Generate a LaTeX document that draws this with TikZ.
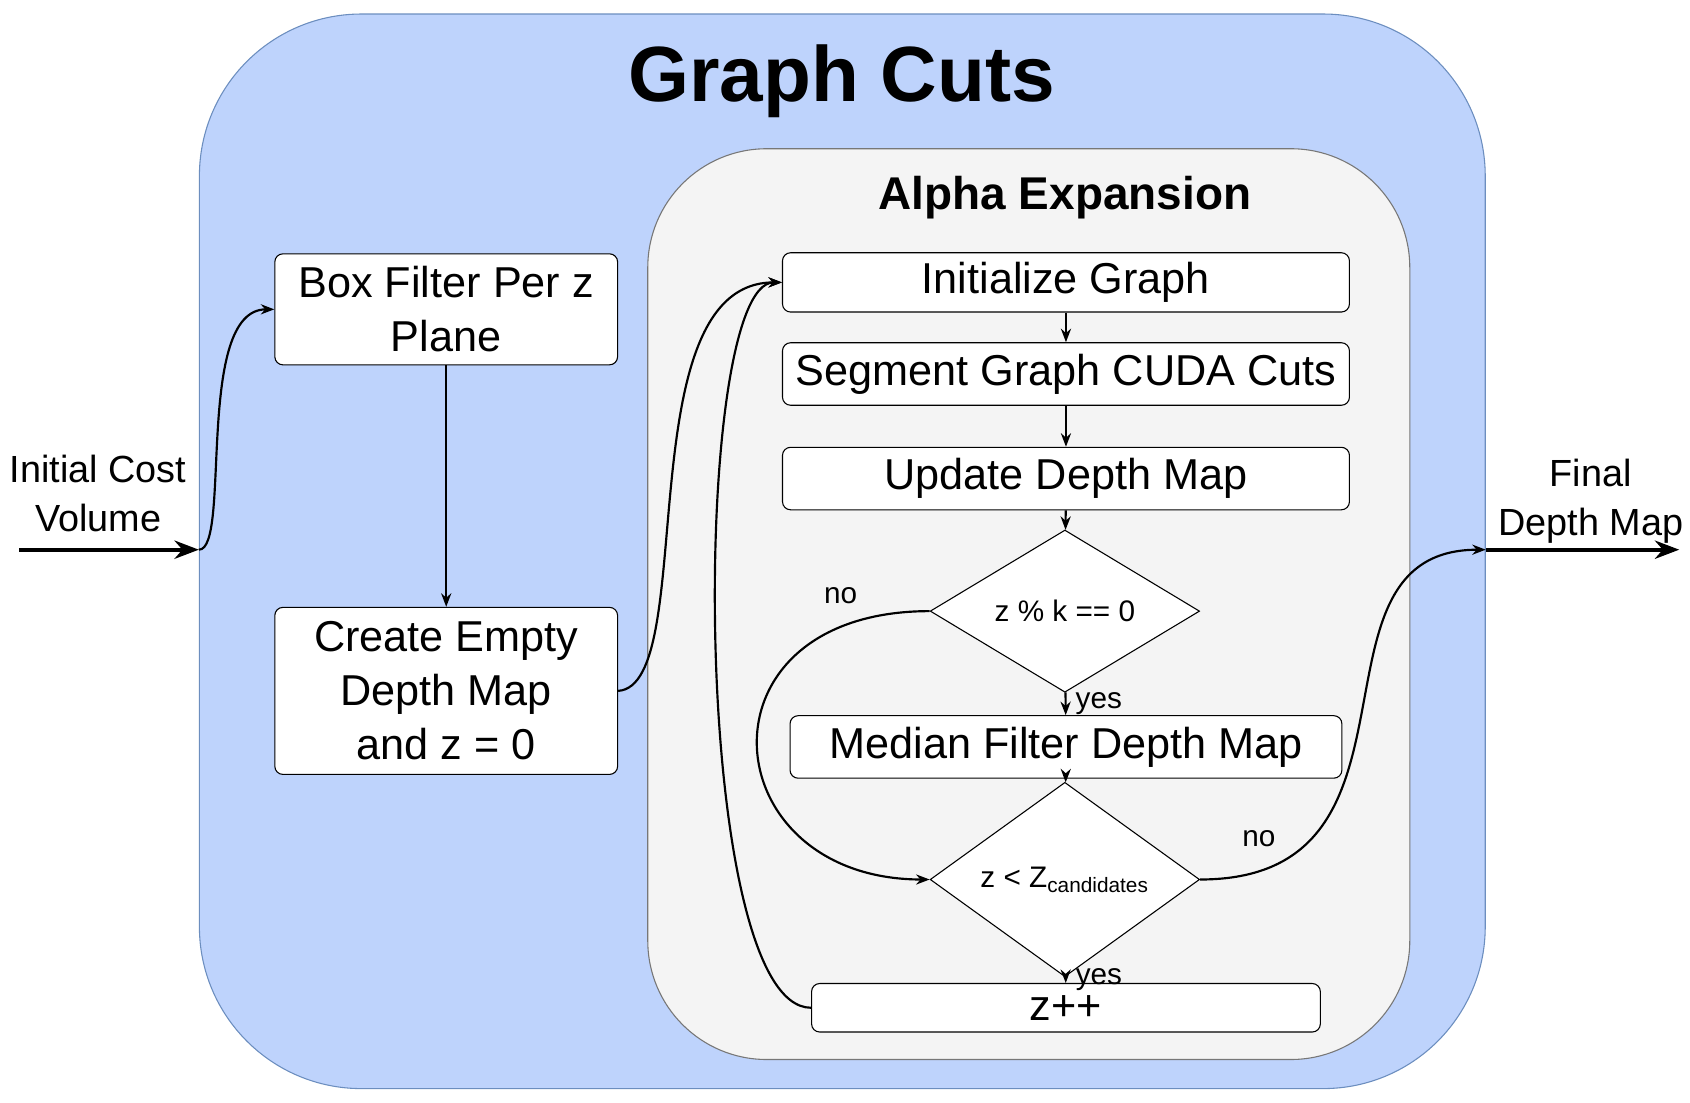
\documentclass[tikz,border=0pt]{standalone}
\usepackage{fontspec}
\setmainfont{Liberation Sans}
\usetikzlibrary{shapes.geometric, arrows.meta, positioning}
\definecolor{outerfill}{HTML}{BED3FC}
\definecolor{outerline}{HTML}{6C8EBF}
\definecolor{innerfill}{HTML}{F4F4F4}
\definecolor{innerline}{HTML}{777777}
\begin{document}
\begin{tikzpicture}[
    x=0.01403cm, y=-0.01403cm,
    stage/.style={rectangle, draw, rounded corners=3pt, fill=white, inner sep=0pt, align=center, font=\fontsize{16}{20}\selectfont},
    test/.style={diamond, draw, fill=white, inner sep=0pt, font=\fontsize{11}{13}\selectfont},
    lbl/.style={font=\fontsize{11}{13}\selectfont},
    arrow/.style={-{Stealth[length=5pt]}, thick},
    big/.style={-{Stealth[length=9pt]}, line width=1.6pt}
]
    \useasboundingbox (0,0) rectangle (1568,1023);
    % containers
    \node[draw=outerline, fill=outerfill, rounded corners=60pt, minimum width=1193*0.01403cm, minimum height=997*0.01403cm, inner sep=0pt] (gc) at (781.5,511.5) {};
    \node[font=\fontsize{29}{34}\selectfont\bfseries] (gctitle) at (781,75) {Graph Cuts};
    \node[draw=innerline, fill=innerfill, rounded corners=44pt, minimum width=707*0.01403cm, minimum height=845*0.01403cm, inner sep=0pt] (ae) at (954.5,560.5) {};
    \node[font=\fontsize{17}{20}\selectfont\bfseries] (aetitle) at (988,183) {Alpha Expansion};

    % left column
    \node[stage, minimum width=318*0.01403cm, minimum height=103*0.01403cm] (box) at (414,287) {Box Filter Per z\\Plane};
    \node[stage, minimum width=318*0.01403cm, minimum height=155*0.01403cm] (empty) at (414,641) {Create Empty\\Depth Map\\and z = 0};

    % alpha expansion steps
    \node[stage, minimum width=526*0.01403cm, minimum height=55*0.01403cm] (init) at (989,262) {Initialize Graph};
    \node[stage, minimum width=526*0.01403cm, minimum height=58*0.01403cm] (seg) at (989,347) {Segment Graph CUDA Cuts};
    \node[stage, minimum width=526*0.01403cm, minimum height=58*0.01403cm] (upd) at (989,444) {Update Depth Map};
    \node[test, minimum width=250*0.01403cm, minimum height=110*0.01403cm] (modk) at (988,567) {z \% k == 0};
    \node[stage, minimum width=512*0.01403cm, minimum height=58*0.01403cm] (med) at (989,693) {Median Filter Depth Map};
    \node[test, minimum width=250*0.01403cm, minimum height=108*0.01403cm] (less) at (988,816) {z < Z\textsubscript{candidates}};
    \node[stage, minimum width=472*0.01403cm, minimum height=45*0.01403cm] (inc) at (989,935) {z++};

    % input and output
    \coordinate (in) at (18,510);
    \coordinate (out) at (1558,510);
    \node[fill=white, align=center, font=\fontsize{14}{18}\selectfont] (inlbl) at (91,458) {Initial Cost\\Volume};
    \node[fill=white, align=center, font=\fontsize{14}{18}\selectfont] (outlbl) at (1476,465) {Final\\Depth Map};

    \draw[big] (in) -- (gc.west |- in);
    \draw[big] (gc.east |- out) -- (out);
    \draw[arrow] (gc.west |- in) .. controls (215,510) and (180,287) .. (box.west);
    \draw[arrow] (box) -- (empty);
    \draw[arrow] (empty.east) .. controls (650,636) and (580,262) .. (init.west);
    \draw[arrow] (inc.west) .. controls (640,935) and (640,262) .. (init.west);
    \draw[arrow] (init) -- (seg);
    \draw[arrow] (seg) -- (upd);
    \draw[arrow] (upd) -- (modk);
    \draw[arrow] (modk) -- node[lbl, right] {yes} (med);
    \draw[arrow] (med) -- (less);
    \draw[arrow] (less) -- node[lbl, right] {yes} (inc);
    \draw[arrow] (modk.west) .. controls (640,567) and (660,816) .. (less.west);
    \node[lbl] (nolbl1) at (780,553) {no};
    \draw[arrow] (less.east) .. controls (1340,816) and (1200,510) .. (gc.east |- out);
    \node[lbl] (nolbl2) at (1168,778) {no};
\end{tikzpicture}
\end{document}
